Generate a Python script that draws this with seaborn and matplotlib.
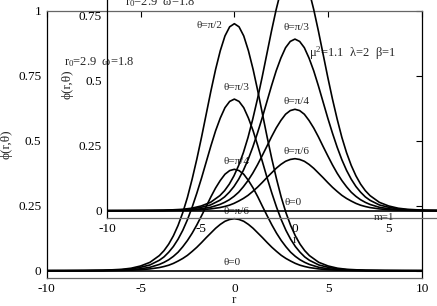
import matplotlib
matplotlib.use("Agg")
import matplotlib.pyplot as plt
import seaborn as sns
import numpy as np
import pandas as pd

# ---- data ----
r_half = [0.0, 0.25, 0.5, 0.75, 1.0, 1.25, 1.5, 1.75, 2.0, 2.25, 2.5, 2.75,
          3.0, 3.25, 3.5, 3.75, 4.0, 4.5, 5.0, 5.5, 6.0, 7.0, 8.0, 9.0, 10.0]
phi_pi2 = [0.950, 0.938, 0.903, 0.846, 0.774, 0.691, 0.602, 0.513, 0.429, 0.352, 0.282, 0.223,
           0.174, 0.134, 0.102, 0.077, 0.058, 0.032, 0.018, 0.0095, 0.0052, 0.0015, 0.0005, 0.0001, 0.0]
phi_pi3 = [0.660, 0.651, 0.627, 0.587, 0.538, 0.480, 0.418, 0.356, 0.298, 0.244, 0.196, 0.155,
           0.121, 0.093, 0.071, 0.053, 0.040, 0.022, 0.013, 0.0066, 0.0036, 0.0011, 0.0003, 0.0001, 0.0]
phi_pi4 = [0.390, 0.385, 0.371, 0.347, 0.318, 0.284, 0.247, 0.211, 0.176, 0.144, 0.116, 0.092,
           0.071, 0.055, 0.042, 0.032, 0.024, 0.013, 0.0074, 0.0039, 0.0021, 0.0006, 0.0002, 0.0001, 0.0]
phi_pi6 = [0.200, 0.197, 0.190, 0.178, 0.163, 0.145, 0.127, 0.108, 0.090, 0.074, 0.059, 0.047,
           0.037, 0.028, 0.021, 0.016, 0.012, 0.0068, 0.0038, 0.0020, 0.0011, 0.0003, 0.0001, 0.0, 0.0]
phi_0 = [0.0] * len(r_half)

curve_names = ["π/2", "π/3", "π/4", "π/6", "0"]
curve_half = [phi_pi2, phi_pi3, phi_pi4, phi_pi6, phi_0]

xticks = [-10, -5, 0, 5, 10]
yticks = [0, 0.25, 0.5, 0.75, 1]
ytick_labels = ["0", "0.25", "0.5", "0.75", "1"]

# symmetric profiles (curves are even in r)
rows = []
for name, half in zip(curve_names, curve_half):
    rr = [-v for v in r_half[::-1]] + r_half[1:]
    pp = half[::-1] + half[1:]
    for a, b in zip(rr, pp):
        rows.append({"r": a, "phi": b, "theta": name})
df = pd.DataFrame(rows)

sns.set_style("white")
plt.rcParams["font.family"] = ["Liberation Serif", "DejaVu Serif"]
plt.rcParams["mathtext.fontset"] = "custom"
plt.rcParams["mathtext.rm"] = "Liberation Serif"
plt.rcParams["mathtext.it"] = "Liberation Serif"
plt.rcParams["mathtext.default"] = "regular"

fig = plt.figure(figsize=(4.37, 3.06), dpi=100)
W, H = 437, 306
axw, axh = 375.3 / W, 267 / H
ax = fig.add_axes([46.7 / W, (H - 277.7) / H, axw, axh])
ax2 = fig.add_axes([107.3 / W, (H - 217.7) / H, axw, axh])
ax2.patch.set_alpha(0)

theta_labels = {
    "π/2": (-0.64, 0.942, "right"),
    "π/3": (0.1, 0.704, "center"),
    "π/4": (0.1, 0.419, "center"),
    "π/6": (0.1, 0.227, "center"),
    "0": (-0.1, 0.031, "center"),
}

for a, is_inset in ((ax, False), (ax2, True)):
    sns.lineplot(data=df, x="r", y="phi", hue="theta", palette=["black"] * 5,
                 legend=False, ax=a, linewidth=1.2, sort=False, estimator=None,
                 units="theta")
    a.set_xlim(-10, 10)
    a.set_ylim(-0.027, 1.0)
    # in the inset, the last tick of each axis lies outside the picture
    xt = xticks[:-1] if is_inset else xticks
    yt = yticks[:-1] if is_inset else yticks
    ytl = ytick_labels[:-1] if is_inset else ytick_labels
    a.set_xticks(xt)
    a.set_xticklabels([str(t) for t in xt])
    a.set_yticks(yt)
    a.set_yticklabels(ytl)
    a.tick_params(direction="in", length=4, width=0.8, labelsize=9.5,
                  top=True, right=True, pad=4, colors="black")
    a.set_xlabel("r", fontsize=9.5, labelpad=-1)
    a.set_ylabel("ϕ(r,θ)", fontsize=9.5, labelpad=4)
    for s in ("top", "bottom"):
        a.spines[s].set_color("#666666")
        a.spines[s].set_linewidth(0.9)
    for s in ("left", "right"):
        a.spines[s].set_color("black")
        a.spines[s].set_linewidth(0.9)
    for name, (tx, ty, ha) in theta_labels.items():
        if is_inset and name == "π/2":
            continue  # lies above the visible picture in the inset
        a.text(tx, ty, "θ=" + name, fontsize=8, ha=ha, va="center")
    a.text(-9.07, 0.804, r"r$_0$=2.9  ω=1.8", fontsize=9, ha="left", va="center")

ax.text(4.0, 0.838, r"μ$^2$=1.1  λ=2  β=1", fontsize=9, ha="left", va="center")
ax2.text(4.75, -0.027, "m=1", fontsize=8, ha="center", va="center")

fig.savefig("out.png", dpi=100)
